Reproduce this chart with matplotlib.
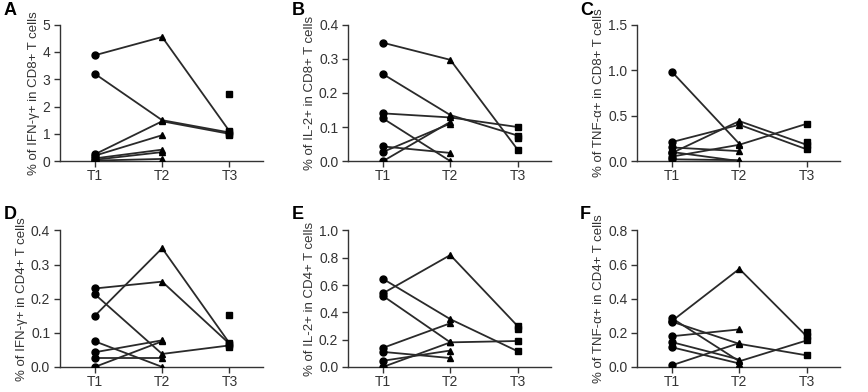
import numpy as np
import matplotlib
matplotlib.use('Agg')
import matplotlib.pyplot as plt

plt.rcParams['font.family'] = ['Liberation Sans', 'DejaVu Sans']

nan = np.nan
timepoints = ['T1', 'T2', 'T3']

# one entry per patient: value at T1, T2, T3 (nan = not measured)
a_t1 = [3.88, 3.2, 0.25, 0.2, 0.1, 0.05, 0.02, nan, nan]
a_t2 = [4.55, 1.5, 1.46, 0.95, 0.42, 0.33, 0.08, nan, nan]
a_t3 = [1.1, 1.05, 1.0, nan, nan, nan, nan, 2.45, 0.95]

b_t1 = [0.347, 0.255, 0.14, 0.125, 0.043, 0.027, 0.0, nan]
b_t2 = [0.297, 0.135, 0.128, 0.0, 0.024, 0.11, 0.115, nan]
b_t3 = [0.034, 0.075, 0.1, nan, nan, nan, nan, 0.068]

c_t1 = [0.98, 0.21, 0.09, 0.15, 0.05, 0.02, 0.1, nan]
c_t2 = [0.19, 0.40, 0.44, 0.11, 0.18, 0.01, 0.0, nan]
c_t3 = [nan, 0.13, 0.18, nan, 0.41, nan, nan, 0.21]

d_t1 = [0.15, 0.23, 0.213, 0.075, 0.043, 0.027, 0.0, nan, nan]
d_t2 = [0.348, 0.25, 0.038, 0.0, 0.078, 0.027, 0.075, nan, nan]
d_t3 = [0.07, 0.068, 0.063, nan, nan, nan, nan, 0.153, 0.058]

e_t1 = [0.54, 0.645, 0.52, 0.14, 0.11, 0.045, 0.0, nan]
e_t2 = [0.82, 0.35, 0.18, 0.32, 0.065, 0.12, 0.18, nan]
e_t3 = [0.30, 0.115, 0.19, nan, nan, nan, nan, 0.28]

f_t1 = [0.27, 0.285, 0.265, 0.18, 0.145, 0.115, 0.01, nan]
f_t2 = [0.575, 0.033, 0.135, 0.22, 0.043, 0.02, 0.14, nan]
f_t3 = [0.18, 0.155, 0.068, nan, nan, nan, nan, 0.205]

panels = [
    ('A', a_t1, a_t2, a_t3, '% of IFN-γ+ in CD8+ T cells', [0, 1, 2, 3, 4, 5], '{:.0f}'),
    ('B', b_t1, b_t2, b_t3, '% of IL-2+ in CD8+ T cells', [0, 0.1, 0.2, 0.3, 0.4], '{:.1f}'),
    ('C', c_t1, c_t2, c_t3, '% of TNF-α+ in CD8+ T cells', [0, 0.5, 1.0, 1.5], '{:.1f}'),
    ('D', d_t1, d_t2, d_t3, '% of IFN-γ+ in CD4+ T cells', [0, 0.1, 0.2, 0.3, 0.4], '{:.1f}'),
    ('E', e_t1, e_t2, e_t3, '% of IL-2+ in CD4+ T cells', [0, 0.2, 0.4, 0.6, 0.8, 1.0], '{:.1f}'),
    ('F', f_t1, f_t2, f_t3, '% of TNF-α+ in CD4+ T cells', [0, 0.2, 0.4, 0.6, 0.8], '{:.1f}'),
]

fig = plt.figure(figsize=(8.68, 3.92), dpi=100)

lefts = [0.069, 0.401, 0.734]
bottoms = [0.589, 0.064]
letter_x = [0.004, 0.336, 0.668]
letter_y = [0.972, 0.452]
markers = ['o', '^', 's']
x = np.arange(3)
grey = '#333333'

for i, (letter, t1, t2, t3, label, yticks, fmt) in enumerate(panels):
    row, col = divmod(i, 3)
    ax = fig.add_axes([lefts[col], bottoms[row], 0.234, 0.348])
    vals = np.array([t1, t2, t3], dtype=float)
    for p in range(vals.shape[1]):
        ax.plot(x, vals[:, p], color='#2a2a2a', lw=1.3, zorder=2)
    for k in range(3):
        ax.plot(np.full(vals.shape[1], x[k]), vals[k], ls='none', marker=markers[k],
                ms=5 if k != 1 else 4.5, color='black', zorder=3)
    ax.set_xlim(-0.52, 2.5)
    ax.set_ylim(0, yticks[-1])
    ax.set_yticks(yticks)
    ax.set_yticklabels([fmt.format(v) for v in yticks])
    ax.set_xticks(x)
    ax.set_xticklabels(timepoints)
    ax.set_ylabel(label, fontsize=9.5, color=grey, labelpad=2)
    for side in ['top', 'right']:
        ax.spines[side].set_visible(False)
    for side in ['left', 'bottom']:
        ax.spines[side].set_color(grey)
        ax.spines[side].set_linewidth(1.0)
    ax.tick_params(colors=grey, labelsize=10, length=4, width=1.0, pad=2)
    ax.tick_params(axis='y', pad=3)
    fig.text(letter_x[col], letter_y[row], letter, fontsize=13, fontweight='bold',
             ha='left', va='center')

fig.savefig('out.png', dpi=100)
